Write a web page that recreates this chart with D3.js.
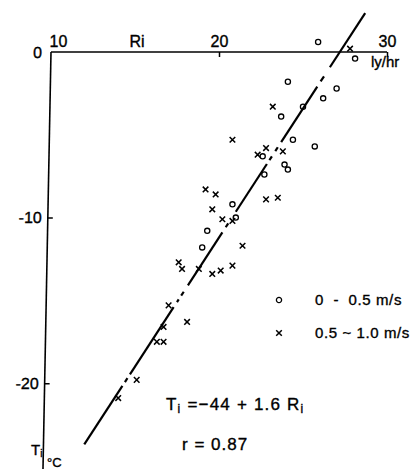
<!DOCTYPE html>
<html>
<head>
<meta charset="utf-8">
<script src="https://cdn.jsdelivr.net/npm/d3@7.9.0/dist/d3.min.js"></script>
<style>
  html, body { margin: 0; padding: 0; background: #fff; }
  svg { display: block; font-family: "Liberation Sans", Arial, sans-serif; }
  svg text { fill: #000; stroke: #000; stroke-width: 0.35px; }
</style>
</head>
<body>
<div id="chart"></div>
<script>
// ---- data (Ri in ly/hr, Ti in °C) ----
const slowRi = [25.9, 28.1, 24.1, 27.0, 26.2, 25.0, 23.7, 24.4, 25.7, 22.6, 23.9, 24.1, 22.7, 20.8, 21.0, 19.3, 19.0];
const slowTi = [0.6, -0.4, -1.8, -2.2, -2.8, -3.3, -3.9, -5.3, -5.7, -6.3, -6.8, -7.1, -7.4, -9.2, -10.0, -10.8, -11.8];

const fastRi = [27.8, 23.2, 20.8, 22.8, 22.3, 23.8, 19.2, 19.8, 22.8, 23.5, 19.6, 20.2, 20.8, 21.4,
                17.6, 17.8, 18.8, 19.6, 20.1, 20.8, 17.0, 18.1, 16.7, 16.3, 16.7, 15.1, 14.0];
const fastTi = [0.2, -3.3, -5.3, -5.8, -6.2, -6.0, -8.3, -8.6, -8.9, -8.8, -9.5, -10.1, -10.2, -11.7,
                -12.7, -13.1, -13.1, -13.4, -13.2, -12.9, -15.3, -16.3, -16.6, -17.5, -17.5, -19.8, -20.9];

// fitted line as drawn (end points) and the pieces of it that are inked
const fitRi = [11.98, 28.7];
const fitTi = [-23.7, 2.35];
const fitPieces = [[11.98, 14.25], [14.4, 14.55], [14.7, 17.3], [17.5, 17.6], [17.75, 17.9],
                   [18.15, 20.2], [20.4, 20.55], [21.0, 22.85], [23.0, 23.15], [23.35, 23.5],
                   [23.7, 25.85], [26.05, 26.25], [26.6, 28.7]];

const xTicks = [10, 20, 30];
const yTicks = [0, -10, -20];
const legendItems = ['0  -  0.5 m/s', '0.5 ~ 1.0 m/s'];

const slow = slowRi.map((r, i) => ({ ri: r, ti: slowTi[i] }));
const fast = fastRi.map((r, i) => ({ ri: r, ti: fastTi[i] }));

// ---- layout ----
const width = 414, height = 469;
const x = d3.scaleLinear().domain([10, 30]).range([51, 387]);
const y = d3.scaleLinear().domain([0, -25]).range([52, 466]);
const fit = d3.scaleLinear().domain(fitRi).range(fitTi);

const svg = d3.select('#chart').append('svg')
  .attr('width', width).attr('height', height)
  .attr('viewBox', `0 0 ${width} ${height}`);

// top axis (Ri)
const xAxis = svg.append('g')
  .attr('transform', `translate(0,${y(0)})`)
  .call(d3.axisTop(x).tickValues(xTicks).tickSize(-5).tickPadding(5).tickFormat(d3.format('d')));
xAxis.select('.domain').attr('stroke-width', 1.6).attr('d', `M${x(10)},0H${x(30)}`);
xAxis.selectAll('.tick line').attr('stroke-width', 1.5);
xAxis.selectAll('.tick').filter(d => d === 10).select('line').remove();
xAxis.selectAll('.tick text').attr('font-size', 16);
xAxis.selectAll('.tick').filter(d => d === 10).select('text').attr('dx', 7);

// left axis (Ti), slightly skewed like the scan
const yAxis = svg.append('g')
  .attr('transform', `translate(${x(10)},${y(0)}) skewX(-1.1) translate(0,${-y(0)})`)
  .call(d3.axisLeft(y).tickValues(yTicks).tickSize(-5).tickPadding(6).tickFormat(d => String(d)));
yAxis.select('.domain').attr('stroke-width', 1.6).attr('d', `M0,${y(0)}V${height}`);
yAxis.selectAll('.tick line').attr('stroke-width', 1.5);
yAxis.selectAll('.tick').filter(d => d === 0).select('line').remove();
yAxis.selectAll('.tick text').attr('font-size', 16);
yAxis.selectAll('.tick').filter(d => d === 0).select('text').attr('dx', -3);

// axis titles
svg.append('text').attr('x', 137).attr('y', 47).attr('text-anchor', 'middle')
  .attr('font-size', 16).text('Ri');
svg.append('text').attr('x', 371).attr('y', 67).attr('font-size', 15).text('ly/hr');
const tiLab = svg.append('text').attr('x', 31).attr('y', 455).attr('font-size', 15);
tiLab.append('tspan').text('T');
tiLab.append('tspan').attr('dy', 2).attr('font-size', 10).text('i');
svg.append('text').attr('x', 47).attr('y', 467).attr('font-size', 13).text('°C');

// fitted line
svg.append('g').selectAll('line')
  .data(fitPieces)
  .join('line')
  .attr('x1', d => x(d[0])).attr('y1', d => y(fit(d[0])))
  .attr('x2', d => x(d[1])).attr('y2', d => y(fit(d[1])))
  .attr('stroke', '#000').attr('stroke-width', 2.2).attr('stroke-linecap', 'butt');

// points
const crossPath = s => `M${-s},${-s}L${s},${s}M${s},${-s}L${-s},${s}`;

svg.append('g').selectAll('circle')
  .data(slow)
  .join('circle')
  .attr('cx', d => x(d.ri)).attr('cy', d => y(d.ti)).attr('r', 2.6)
  .attr('fill', 'none').attr('stroke', '#000').attr('stroke-width', 1.3);

svg.append('g').selectAll('path')
  .data(fast)
  .join('path')
  .attr('transform', d => `translate(${x(d.ri)},${y(d.ti)})`)
  .attr('d', crossPath(2.8))
  .attr('fill', 'none').attr('stroke', '#000').attr('stroke-width', 1.5);

// legend
const legend = svg.append('g');
const lg = legend.selectAll('g').data(legendItems).join('g')
  .attr('transform', (d, i) => `translate(279,${300 + i * 33})`);
lg.filter((d, i) => i === 0).append('circle').attr('r', 2.6)
  .attr('fill', 'none').attr('stroke', '#000').attr('stroke-width', 1.3);
lg.filter((d, i) => i === 1).append('path').attr('d', crossPath(2.8))
  .attr('fill', 'none').attr('stroke', '#000').attr('stroke-width', 1.5);
lg.append('text').attr('x', 36).attr('y', 5).attr('font-size', 15)
  .attr('letter-spacing', 0.6)
  .style('white-space', 'pre').text(d => d);

// equation
const eq = svg.append('text').attr('x', 166).attr('y', 410).attr('font-size', 17)
  .attr('letter-spacing', 1.2);
eq.append('tspan').text('T');
eq.append('tspan').attr('dy', 3).attr('font-size', 12).text('i');
eq.append('tspan').attr('dy', -3).style('white-space', 'pre').text(' =−44 + 1.6 R');
eq.append('tspan').attr('dy', 3).attr('font-size', 12).text('i');

svg.append('text').attr('x', 182).attr('y', 450).attr('font-size', 17)
  .attr('letter-spacing', 1).text('r = 0.87');
</script>
</body>
</html>
